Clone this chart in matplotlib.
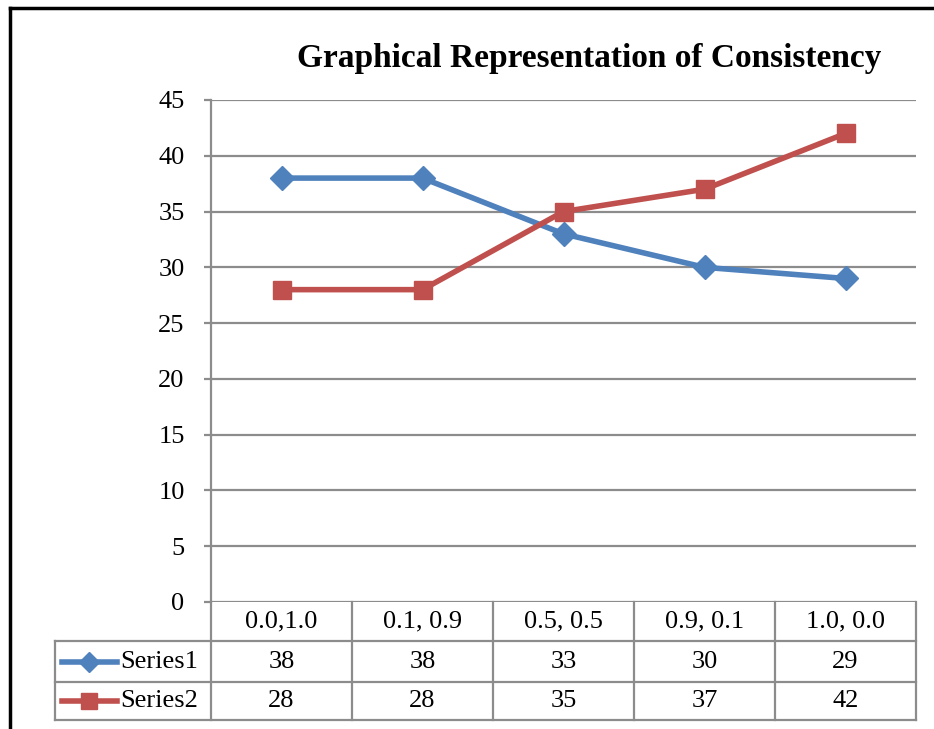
import matplotlib.pyplot as plt
from matplotlib.lines import Line2D
from matplotlib.transforms import blended_transform_factory

categories = ['0.0,1.0', '0.1, 0.9', '0.5, 0.5', '0.9, 0.1', '1.0, 0.0']
series1 = [38, 38, 33, 30, 29]
series2 = [28, 28, 35, 37, 42]
series_names = ['Series1', 'Series2']
yticks = [0, 5, 10, 15, 20, 25, 30, 35, 40, 45]

blue = '#4F81BD'
red = '#C0504D'
grid_c = '#8C8C8C'
W, H = 934, 729

plt.rcParams['font.family'] = ['Liberation Serif', 'DejaVu Serif']

fig = plt.figure(figsize=(W / 100, H / 100), dpi=100)


def fy(py):
    return (H - py) / H


ax = fig.add_axes([211 / W, fy(602), (916 - 211) / W, (602 - 100) / H])
x = list(range(len(categories)))
ax.plot(x, series1, color=blue, lw=4, marker='D', ms=12, zorder=3)
ax.plot(x, series2, color=red, lw=4, marker='s', ms=13, zorder=3)
ax.set_xlim(-0.5, len(categories) - 0.5)
ax.set_ylim(0, 45)
ax.set_yticks(yticks)
ax.set_xticks([])
ax.yaxis.grid(True, color=grid_c, lw=1.6)
ax.set_axisbelow(True)
for s in ['top', 'right', 'bottom']:
    ax.spines[s].set_visible(False)
ax.spines['left'].set_color(grid_c)
ax.spines['left'].set_linewidth(1.6)
ax.tick_params(axis='y', length=5, width=1.6, color=grid_c, pad=14, labelsize=19)

fig.text(589 / W, fy(58), 'Graphical Representation of Consistency',
         ha='center', va='center', fontsize=24, fontweight='bold')

# data table under the plot
tr = blended_transform_factory(ax.transData, fig.transFigure)
x_left = -0.5 - (211 - 55) / 141
rows = [602, 641, 682, 720]
lkw = dict(color=grid_c, lw=1.6, transform=tr, clip_on=False)
for r in rows[1:]:
    fig.add_artist(Line2D([x_left, 4.5], [fy(r), fy(r)], **lkw))
fig.add_artist(Line2D([x_left, x_left], [fy(641), fy(720)], **lkw))
for i in range(len(categories) + 1):
    xb = i - 0.5
    fig.add_artist(Line2D([xb, xb], [fy(602), fy(720)], **lkw))

fs = 19
for i, c in enumerate(categories):
    fig.text(i, fy(621), c, transform=tr, ha='center', va='center', fontsize=fs)
    fig.text(i, fy(662), str(series1[i]), transform=tr, ha='center', va='center', fontsize=fs)
    fig.text(i, fy(701), str(series2[i]), transform=tr, ha='center', va='center', fontsize=fs)

for name, col, mk, ms, py in [(series_names[0], blue, 'D', 10, 662),
                              (series_names[1], red, 's', 11, 701)]:
    fig.add_artist(Line2D([62 / W, 117 / W], [fy(py), fy(py)], color=col, lw=4,
                          transform=fig.transFigure))
    fig.add_artist(Line2D([89 / W], [fy(py)], color=col, marker=mk, ms=ms,
                          lw=0, transform=fig.transFigure))
    fig.text(120 / W, fy(py), name, ha='left', va='center', fontsize=fs)

# outer chart frame
fig.add_artist(Line2D([10 / W, 10 / W], [0, fy(8)], color='black', lw=2.5,
                      transform=fig.transFigure))
fig.add_artist(Line2D([10 / W, 1], [fy(8), fy(8)], color='black', lw=2.5,
                      transform=fig.transFigure))

fig.savefig('out.png', dpi=100)
